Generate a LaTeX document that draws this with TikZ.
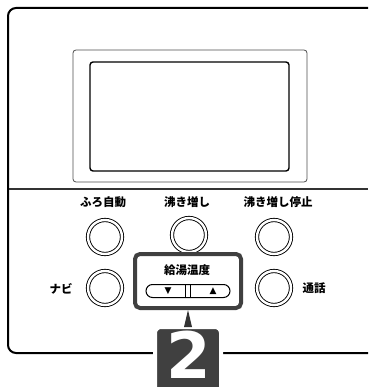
\documentclass[tikz,border=0pt]{standalone}
\usepackage{fontspec}
\newfontfamily\jpfont{Noto Sans CJK JP}
\newfontfamily\symfont{DejaVu Sans}

\begin{document}
\begin{tikzpicture}[x=1pt, y=-1pt,
	btn/.style = {circle, draw, line width=0.9pt, double, double distance=2.4pt, minimum size=34pt, inner sep=0pt},
	lbl/.style = {font=\jpfont\bfseries\fontsize{11.5}{11.5}\selectfont, inner sep=0pt}]
	\useasboundingbox (0,0) rectangle (368,387);

	% panel frame, its right side runs off the picture
	\begin{scope}
		\clip (0,0) rectangle (368,387);
		\draw[line width=2pt, rounded corners=8pt] (8,8) rectangle (385,353);
	\end{scope}
	\draw[line width=1.2pt, black!80] (9,189) -- (368,189);

	% display
	\draw[black!70, line width=0.8pt, rounded corners=3pt] (73,50) rectangle (307,182);
	\draw[line width=1.4pt, rounded corners=3pt] (90,62) rectangle (289,171);

	\node[lbl] (furolbl) at (103,202) {ふろ自動};
	\node[lbl] (oidakilbl) at (187,202) {沸き増し};
	\node[lbl] (stoplbl) at (278,202) {沸き増し停止};

	\node[btn] (furo) at (105,237) {};
	\node[btn] (oidaki) at (189,235) {};
	\node[btn] (stop) at (274,237) {};
	\node[btn] (navi) at (105,288) {};
	\node[btn] (call) at (274,288) {};
	\node[lbl] (navilbl) at (61,289) {ナビ};
	\node[lbl] (calllbl) at (314,288) {通話};

	% hot water temperature keys
	\node[draw=black!75, line width=4pt, fill=white, rounded corners=5pt, minimum width=106pt, minimum height=54pt, inner sep=0pt] (tempbox) at (188,281) {};
	\node[lbl] (templbl) at (187,270) {給湯温度};
	\node[draw, line width=1pt, rounded corners=6.5pt, minimum width=84pt, minimum height=13pt, inner sep=0pt] (pill) at (188,291) {};
	\draw[line width=0.8pt] ([xshift=-2.5pt]pill.south) -- ([xshift=-2.5pt]pill.north);
	\draw[line width=0.8pt] ([xshift=2.5pt]pill.south) -- ([xshift=2.5pt]pill.north);
	\node[font=\symfont\fontsize{9}{9}\selectfont, inner sep=0pt] (down) at (168,291) {▼};
	\node[font=\symfont\fontsize{9}{9}\selectfont, inner sep=0pt] (up) at (213,291) {▲};

	% step number
	\node[fill=black!75, draw=white, line width=4pt, rounded corners=6pt, minimum width=66pt, minimum height=72pt, inner sep=0pt, anchor=north] (numbox) at (188,325) {};
	\node[text=white, font=\symfont\bfseries\fontsize{64}{64}\selectfont, inner sep=0pt] (num) at (189,355) {2};
	\fill[black!80] (tempbox.south) -- ([xshift=-4pt, yshift=-2pt]numbox.north) -- ([xshift=4pt, yshift=-2pt]numbox.north) -- cycle;
\end{tikzpicture}
\end{document}
